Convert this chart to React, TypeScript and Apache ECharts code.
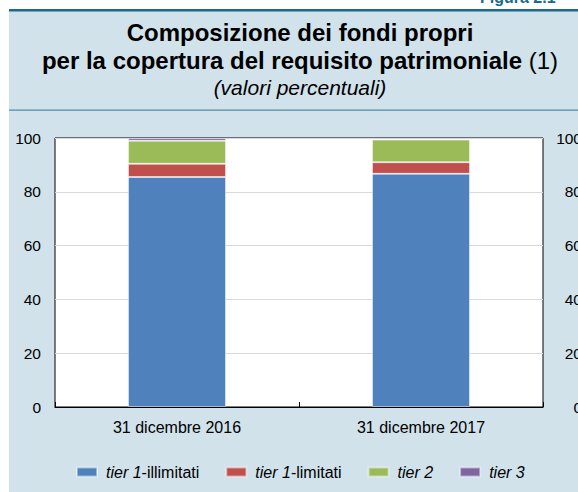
import React, { useEffect, useRef } from 'react';
import * as echarts from 'echarts';

const categories = ['31 dicembre 2016', '31 dicembre 2017'];
const seriesNames = ['tier 1-illimitati', 'tier 1-limitati', 'tier 2', 'tier 3'];
const tier1Illimitati = [85.5, 86.7];
const tier1Limitati = [4.9, 4.3];
const tier2 = [8.6, 8.4];
const tier3 = [1.0, 0.6];
const yMin = 0;
const yMax = 100;
const yStep = 20;
const titleLine1 = 'Composizione dei fondi propri';
const titleLine2 = 'per la copertura del requisito patrimoniale';
const titleNote = ' (1)';
const subtitle = '(valori percentuali)';
const figureLabel = 'Figura 2.1';

const FONT = '"Liberation Sans", Arial, Helvetica, sans-serif';
const colors = ['#4F81BD', '#C0504D', '#9BBB59', '#8064A2'];

const legendFormat: Record<string, string> = {
  'tier 1-illimitati': '{i|tier 1}{n|-illimitati}',
  'tier 1-limitati': '{i|tier 1}{n|-limitati}',
  'tier 2': '{i|tier 2}',
  'tier 3': '{i|tier 3}',
};

export default function App() {
  const ref = useRef<HTMLDivElement>(null);
  useEffect(() => {
    if (!ref.current) return;
    const chart = echarts.init(ref.current, undefined, { renderer: 'svg' });
    const values = [tier1Illimitati, tier1Limitati, tier2, tier3];
    const axisLabel = { color: '#000', fontSize: 15.5, fontFamily: FONT };
    chart.setOption({
      animation: false,
      backgroundColor: '#fff',
      graphic: [
        { type: 'rect', z: -10, shape: { x: 9, y: 0, width: 580, height: 492 }, style: { fill: '#D1E2EB' } },
        { type: 'rect', z: -9, shape: { x: 0, y: 0, width: 9, height: 492 }, style: { fill: '#fff' } },
        { type: 'rect', z: -9, shape: { x: 0, y: 0, width: 578, height: 9 }, style: { fill: '#fff' } },
        { type: 'rect', z: -8, shape: { x: 9, y: 9, width: 580, height: 2.5 }, style: { fill: '#1B6A8C' } },
        { type: 'rect', z: -8, shape: { x: 9, y: 109.5, width: 580, height: 1.2 }, style: { fill: '#4E8DAA' } },
        {
          type: 'text', x: 480, y: 5,
          style: { text: figureLabel, font: `bold 16px ${FONT}`, fill: '#1B6A8C', textAlign: 'left', textVerticalAlign: 'bottom' },
        },
        {
          type: 'text', x: 300, y: 32,
          style: { text: titleLine1, font: `bold 24px ${FONT}`, fill: '#000', textAlign: 'center', textVerticalAlign: 'middle' },
        },
        {
          type: 'text', x: 300, y: 60,
          style: {
            text: `{b|${titleLine2}}{r|${titleNote}}`,
            textAlign: 'center', textVerticalAlign: 'middle',
            rich: {
              b: { font: `bold 24px ${FONT}`, fill: '#000' },
              r: { font: `24px ${FONT}`, fill: '#000' },
            },
          },
        },
        {
          type: 'text', x: 300, y: 87,
          style: { text: subtitle, font: `italic 21px ${FONT}`, fill: '#000', textAlign: 'center', textVerticalAlign: 'middle' },
        },
      ],
      grid: {
        left: 55, top: 138, right: 35, bottom: 85,
        outerBoundsMode: 'none',
        containLabel: false,
        show: true, backgroundColor: '#fff', borderColor: '#000', borderWidth: 1,
      },
      legend: {
        data: seriesNames,
        left: 76,
        top: 464,
        padding: 0,
        itemWidth: 20,
        itemHeight: 9,
        itemGap: 26,
        icon: 'rect',
        formatter: (name: string) => legendFormat[name],
        textStyle: {
          color: '#000', fontSize: 16, fontFamily: FONT, padding: [0, 0, 0, 4],
          rich: {
            i: { fontStyle: 'italic', fontSize: 16, fontFamily: FONT, color: '#000' },
            n: { fontSize: 16, fontFamily: FONT, color: '#000' },
          },
        },
      },
      xAxis: {
        type: 'category',
        data: categories,
        axisLine: { show: true, lineStyle: { color: '#000', width: 1 } },
        axisTick: { show: true, inside: true, length: 5, lineStyle: { color: '#000' } },
        axisLabel: { ...axisLabel, fontSize: 16, margin: 12 },
        splitLine: { show: false },
      },
      yAxis: [
        {
          type: 'value', min: yMin, max: yMax, interval: yStep, position: 'left',
          axisLine: { show: false }, axisTick: { show: false },
          axisLabel: { ...axisLabel, margin: 14 },
          splitLine: { show: true, lineStyle: { color: '#D9D9D9', width: 1 } },
        },
        {
          type: 'value', min: yMin, max: yMax, interval: yStep, position: 'right',
          axisLine: { show: false }, axisTick: { show: false },
          axisLabel: { ...axisLabel, margin: 39, align: 'right' },
          splitLine: { show: false },
        },
      ],
      series: seriesNames.map((name, i) => ({
        name,
        type: 'bar',
        stack: 'total',
        barWidth: 98,
        data: values[i],
        itemStyle: { color: colors[i], borderColor: 'rgba(255,255,255,0.45)', borderWidth: 1 },
      })),
    });
    return () => chart.dispose();
  }, []);
  return <div ref={ref} style={{ position: 'fixed', left: 0, top: 0, width: 578, height: 492 }} />;
}
